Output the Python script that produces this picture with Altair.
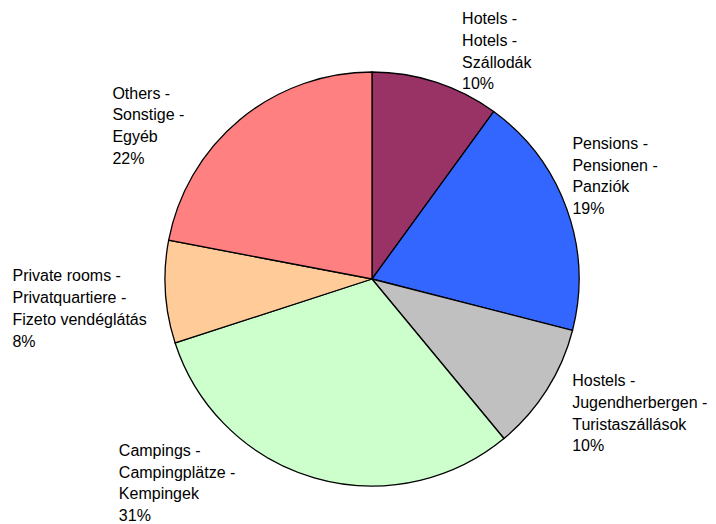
import altair as alt
import pandas as pd

# ---- data ----
cat_en = ["Hotels", "Pensions", "Hostels", "Campings", "Private rooms", "Others"]
cat_de = ["Hotels", "Pensionen", "Jugendherbergen", "Campingplätze", "Privatquartiere", "Sonstige"]
cat_hu = ["Szállodák", "Panziók", "Turistaszállások", "Kempingek", "Fizeto vendéglátás", "Egyéb"]
shares = [10, 19, 10, 31, 8, 22]
colors = ["#993366", "#3366FF", "#C0C0C0", "#CCFFCC", "#FFCC99", "#FF8080"]

labels = [f"{e} -\n{d} -\n{h}\n{v}%" for e, d, h, v in zip(cat_en, cat_de, cat_hu, shares)]

df = pd.DataFrame({
    "idx": list(range(len(cat_en))),
    "cat": cat_en,
    "value": shares,
    "label": labels,
})

# label offsets (style only), relative to the label anchor on the polar radius
label_offsets = {
    "Hotels": (19, -49),
    "Pensions": (-16, -65),
    "Hostels": (6, -29),
    "Campings": (-189, -57),
    "Private rooms": (-130, -25),
    "Others": (-113, -16),
}

CX, CY, R = 364, 271, 207
theta_scale = alt.Scale(domain=[0, 100])

base = alt.Chart(df).transform_window(
    cum="sum(value)", sort=[{"field": "idx"}]
).transform_calculate(
    start="datum.cum - datum.value",
    mid="datum.cum - datum.value / 2",
)

pie = base.mark_arc(radius=R, stroke="black", strokeWidth=1.3).encode(
    theta=alt.Theta("start:Q", scale=theta_scale),
    theta2="cum:Q",
    color=alt.Color("cat:N", scale=alt.Scale(domain=cat_en, range=colors), legend=None),
    x=alt.value(CX),
    y=alt.value(CY),
)

layers = [pie]
for c in cat_en:
    dx, dy = label_offsets[c]
    layers.append(
        base.transform_filter(alt.datum.cat == c).mark_text(
            radius=230, dx=dx, dy=dy, align="left", baseline="top",
            lineBreak="\n", lineHeight=21.7, font="Liberation Sans",
            fontSize=16, color="black",
        ).encode(
            theta=alt.Theta("mid:Q", scale=theta_scale),
            text="label:N",
            x=alt.value(CX),
            y=alt.value(CY),
        )
    )

chart = alt.layer(*layers).properties(
    width=700, height=516, autosize=alt.AutoSizeParams(type="none"), padding=0
).configure_view(strokeWidth=0)

chart.save("out.html", embed_options={"renderer": "svg", "actions": False})
